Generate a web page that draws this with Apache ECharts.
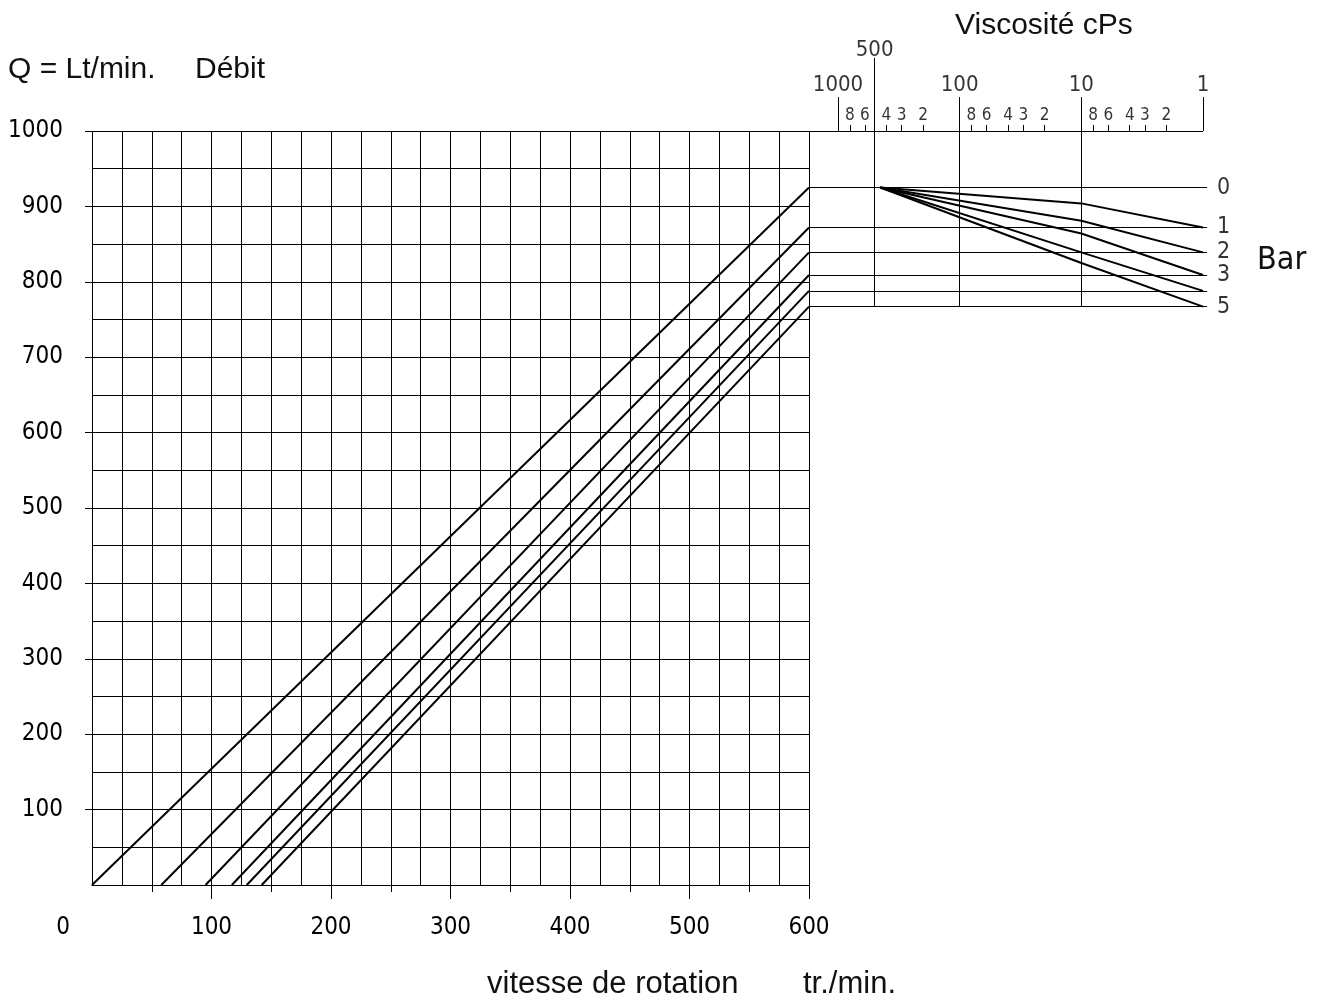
<!DOCTYPE html>
<html>
<head>
<meta charset="utf-8">
<script src="https://cdn.jsdelivr.net/npm/echarts@6/dist/echarts.min.js"></script>
<style>
html,body{margin:0;padding:0;background:#fff;}
#chart{width:1324px;height:1003px;}
</style>
</head>
<body>
<div id="chart"></div>
<script>
// ---------- DATA ----------
// Left chart: flow (Lt/min) vs speed (tr./min), one line per pressure (Bar)
const speedTicks = [0, 100, 200, 300, 400, 500, 600];
const flowTicks = [100, 200, 300, 400, 500, 600, 700, 800, 900, 1000];
const lineStartSpeed = [0, 58, 95, 117, 129.5, 142];     // speed at Q = 0
const lineEndFlow = [925, 872, 839, 809, 788, 767];      // Q at 600 tr./min
// Right chart: viscosity correction (cPs, log scale)
const barLevels = [925, 872, 839, 809, 788, 767];
const barLabels = ['0', '1', '2', '3', '', '5'];
const viscDecades = [1000, 100, 10, 1];
const viscMinor = [800, 600, 400, 300, 200, 80, 60, 40, 30, 20, 8, 6, 4, 3, 2];
const viscMinorLabels = ['8', '6', '4', '3', '2', '8', '6', '4', '3', '2', '8', '6', '4', '3', '2'];
const viscRef = 500;
const viscLong = [500, 100, 10];
const curveStartVisc = 450;
const curveStartFlow = 925;
const curveAt10 = [904, 881, 864, 839, 825];
const curveAt1 = [872, 839, 809, 788, 767];

// ---------- STYLE ----------
const CAD = "'Liberation Sans Narrow', 'DejaVu Sans Condensed', sans-serif";
const CAD2 = "'DejaVu Sans Condensed', 'Liberation Sans Narrow', sans-serif";
const SANS = "'Liberation Sans', Arial, sans-serif";
const INK = '#000';
const viscMax = 1731;    // left edge of right panel
const viscMinEdge = 0.925;

const chart = echarts.init(document.getElementById('chart'), null, {renderer: 'canvas'});

const series = [];

// left diagonal lines
lineStartSpeed.forEach((s, i) => {
  series.push({
    type: 'line', xAxisIndex: 0, yAxisIndex: 0, symbol: 'none', silent: true,
    lineStyle: {color: INK, width: 2},
    data: [[s, 0], [600, lineEndFlow[i]]]
  });
});

// right panel frame segments
const seg = [];
seg.push({coords: [[viscMax, 1000], [1, 1000]]});
barLevels.forEach(v => seg.push({coords: [[viscMax, v], [viscMinEdge, v]]}));
viscDecades.forEach(d => seg.push({coords: [[d, 1045], [d, 1000]]}));
viscLong.forEach(d => seg.push({coords: [[d, d === viscRef ? 1097 : 1045], [d, barLevels[barLevels.length - 1]]]}));
viscMinor.forEach(d => seg.push({coords: [[d, 1008], [d, 1000]]}));
series.push({
  type: 'lines', coordinateSystem: 'cartesian2d', xAxisIndex: 2, yAxisIndex: 1,
  clip: false, silent: true, polyline: false,
  lineStyle: {color: INK, width: 1, opacity: 1},
  data: seg
});

// viscosity curves
curveAt10.forEach((v, i) => {
  series.push({
    type: 'line', xAxisIndex: 2, yAxisIndex: 1, symbol: 'none', silent: true,
    lineStyle: {color: INK, width: 2},
    data: [[curveStartVisc, curveStartFlow], [10, v], [1, curveAt1[i]]]
  });
});

// right panel labels
const lbl = [];
viscDecades.forEach(d => lbl.push({name: String(d), value: [d, 1061], label: {fontSize: 22}}));
lbl.push({name: String(viscRef), value: [viscRef, 1107], label: {fontSize: 22}});
viscMinor.forEach((d, i) => lbl.push({name: viscMinorLabels[i], value: [d, 1020], label: {fontSize: 17}}));
series.push({
  type: 'scatter', xAxisIndex: 2, yAxisIndex: 1, clip: false, silent: true,
  symbolSize: 0,
  label: {show: true, position: 'inside', formatter: p => p.name, color: INK, fontFamily: CAD2},
  data: lbl
});
series.push({
  type: 'scatter', xAxisIndex: 2, yAxisIndex: 1, clip: false, silent: true,
  symbolSize: 0,
  label: {show: true, position: 'right', distance: 14, formatter: p => p.name, color: INK, fontFamily: CAD2, fontSize: 23},
  data: barLevels.map((v, i) => ({name: barLabels[i], value: [1, v]})).filter(d => d.name !== '')
});

const option = {
  animation: false,
  backgroundColor: '#fff',
  grid: [
    {left: 92, top: 131, width: 717, height: 754, containLabel: false, outerBoundsMode: 'none'},
    {left: 809, top: 131, width: 394, height: 754, containLabel: false, outerBoundsMode: 'none'}
  ],
  xAxis: [
    {
      type: 'value', gridIndex: 0, min: 0, max: 600, interval: 100,
      axisLine: {show: true, lineStyle: {color: INK, width: 1}},
      axisTick: {show: true, length: 14, lineStyle: {color: INK, width: 1}, customValues: speedTicks.filter(v => v !== 0)},
      minorTick: {show: true, splitNumber: 2, length: 7, lineStyle: {color: INK, width: 1}},
      axisLabel: {
        show: true, margin: 31, color: INK, fontFamily: CAD, fontSize: 24,
        customValues: speedTicks,
        formatter: v => v === 0 ? '{z|0}' : String(v),
        rich: {z: {fontFamily: CAD, fontSize: 24, color: INK, padding: [0, 58, 0, 0]}}
      },
      splitLine: {show: false}
    },
    {
      type: 'value', gridIndex: 0, min: 0, max: 600, interval: 25,
      axisLine: {show: false}, axisTick: {show: false}, axisLabel: {show: false},
      splitLine: {show: true, lineStyle: {color: INK, width: 1}}
    },
    {
      type: 'log', gridIndex: 1, min: 1, max: viscMax, inverse: true, logBase: 10,
      axisLine: {show: false}, axisTick: {show: false}, axisLabel: {show: false}, splitLine: {show: false}
    }
  ],
  yAxis: [
    {
      type: 'value', gridIndex: 0, min: 0, max: 1000, interval: 100,
      axisLine: {show: false},
      axisTick: {show: true, length: 7, lineStyle: {color: INK, width: 1}, customValues: flowTicks},
      axisLabel: {show: true, margin: 29, color: INK, fontFamily: CAD, fontSize: 24, customValues: flowTicks, formatter: v => String(v)},
      splitLine: {show: true, lineStyle: {color: INK, width: 1}},
      minorTick: {show: false, splitNumber: 2},
      minorSplitLine: {show: true, lineStyle: {color: INK, width: 1}}
    },
    {
      type: 'value', gridIndex: 1, min: 0, max: 1000,
      axisLine: {show: false}, axisTick: {show: false}, axisLabel: {show: false}, splitLine: {show: false}
    }
  ],
  graphic: [
    {type: 'text', x: 8, y: 70, style: {text: 'Q = Lt/min.', font: '30px ' + SANS, fill: '#111', verticalAlign: 'middle'}},
    {type: 'text', x: 195, y: 70, style: {text: 'Débit', font: '30px ' + SANS, fill: '#111', verticalAlign: 'middle'}},
    {type: 'text', x: 955, y: 26, style: {text: 'Viscosité cPs', font: '30px ' + SANS, fill: '#111', verticalAlign: 'middle'}},
    {type: 'text', x: 487, y: 984, style: {text: 'vitesse de rotation', font: '31px ' + SANS, fill: '#111', verticalAlign: 'middle'}},
    {type: 'text', x: 803, y: 984, style: {text: 'tr./min.', font: '31px ' + SANS, fill: '#111', verticalAlign: 'middle'}},
    {type: 'text', x: 1257, y: 261, style: {text: 'Bar', font: '32px ' + CAD, fill: '#111', verticalAlign: 'middle'}}
  ],
  series: series
};
chart.setOption(option);
</script>
</body>
</html>
